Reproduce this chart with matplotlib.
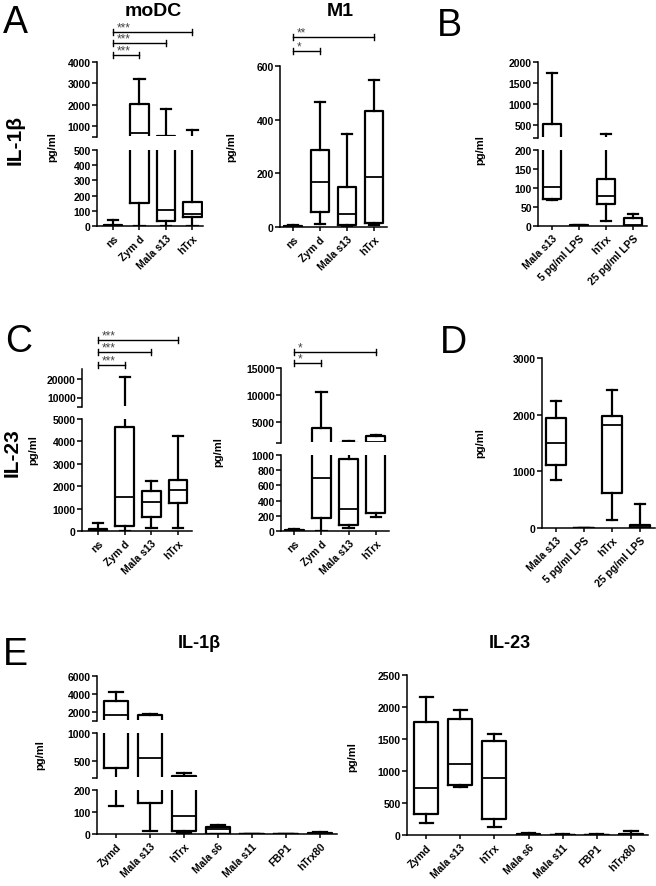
import matplotlib
matplotlib.use('Agg')
import matplotlib.pyplot as plt
import matplotlib.transforms as mtransforms
import numpy as np

plt.rcParams['font.family'] = ['Liberation Sans', 'DejaVu Sans']
plt.rcParams['font.weight'] = 'bold'

# -------------------------------------------------------------------------------------------------------------------- #
# DATA  (each box: whisker low, Q1, median, Q3, whisker high - pg/ml)

cats_stim = ['ns', 'Zym d', 'Mala s13', 'hTrx']
cats_ctrl = ['Mala s13', '5 pg/ml LPS', 'hTrx', '25 pg/ml LPS']
cats_e = ['Zymd', 'Mala s13', 'hTrx', 'Mala s6', 'Mala s11', 'FBP1', 'hTrx80']

il1b_modc = [[0, 0, 4, 8, 42], [0, 150, 700, 2030, 3200], [0, 35, 103, 550, 1830], [0, 58, 80, 158, 810]]
il1b_m1 = [[0, 1, 3, 5, 8], [12, 56, 168, 288, 466], [5, 9, 48, 148, 346], [8, 16, 187, 434, 548]]
il1b_ctrl = [[68, 70, 103, 535, 1730], [0, 0, 1, 2, 3], [13, 59, 79, 123, 290], [0, 0, 2, 22, 32]]

il23_modc = [[0, 10, 30, 80, 370], [0, 240, 1540, 4660, 21000], [120, 610, 1290, 1770, 2250],
             [130, 1245, 1850, 2260, 4260]]
il23_m1 = [[0, 2, 8, 15, 30], [0, 170, 700, 3770, 10560], [44, 74, 284, 950, 1350], [183, 240, 1250, 2350, 2450]]
il23_ctrl = [[847, 1112, 1506, 1941, 2235], [0, 0, 2, 5, 8], [135, 624, 1818, 1970, 2441], [0, 5, 30, 59, 418]]

il1b_e = [[127, 375, 1650, 3250, 4250], [13, 139, 548, 1620, 1770], [5, 15, 84, 235, 290], [0, 0, 25, 30, 39],
          [0, 0, 1, 2, 2], [0, 0, 1, 2, 2], [0, 0, 2, 4, 8]]
il23_e = [[183, 329, 741, 1764, 2161], [757, 783, 1117, 1806, 1952], [130, 256, 887, 1472, 1571],
          [0, 2, 10, 20, 30], [0, 0, 2, 5, 8], [0, 0, 2, 5, 8], [0, 2, 5, 10, 57]]

# -------------------------------------------------------------------------------------------------------------------- #
# HELPERS

W, H = 656, 887
fig = plt.figure(figsize=(W / 100, H / 100), dpi=100)
LW_BOX = 1.6
LW_AX = 1.1
TICK_FS = 7.5


def px_axes(x0, x1, y0, y1):
    return fig.add_axes([x0 / W, 1 - y1 / H, (x1 - x0) / W, (y1 - y0) / H])


def to_stats(rows):
    return [dict(whislo=r[0], q1=r[1], med=r[2], q3=r[3], whishi=r[4]) for r in rows]


def panel(x0, x1, segs, cats, rows, xl=0.55, xr=0.5, width=0.7):
    # segs: (top px, bottom px, ylo, yhi, labelled ticks, end tick?)
    n = len(cats)
    pos = np.arange(1, n + 1)
    stats = to_stats(rows)
    axes = []
    for i, (top, bot, lo, hi, ticks, end_tick) in enumerate(segs):
        ax = px_axes(x0, x1, top, bot)
        line = dict(color='black', linewidth=LW_BOX)
        art = ax.bxp(stats, positions=pos, widths=width, capwidths=width * 0.55, showfliers=False,
                     boxprops=line, whiskerprops=line, capprops=line,
                     medianprops=dict(color='black', linewidth=1.3))
        ax.set_xlim(1 - xl, n + xr)
        ax.set_ylim(lo, hi)
        if i < len(segs) - 1:
            # keep marks that sit just under a break from bleeding into the segment
            eps = 1.5 / (bot - top)
            clip = mtransforms.TransformedBbox(mtransforms.Bbox([[-0.1, eps], [1.1, 1.0]]), ax.transAxes)
            for key in art:
                for a in art[key]:
                    a.set_clip_box(clip)
        yt = list(ticks)
        labels = [str(t) for t in ticks]
        if end_tick:
            yt.append(lo)
            labels.append('')
        ax.set_yticks(yt)
        ax.set_yticklabels(labels)
        ax.spines[['top', 'right']].set_visible(False)
        for s in ax.spines.values():
            s.set_linewidth(LW_AX)
        ax.tick_params(axis='y', labelsize=TICK_FS, length=3.5, width=LW_AX, pad=1)
        if i < len(segs) - 1:
            ax.spines['bottom'].set_visible(False)
            ax.set_xticks([])
        else:
            ax.set_xticks(pos)
            ax.set_xticklabels(cats, rotation=45, ha='right', rotation_mode='anchor')
            ax.tick_params(axis='x', labelsize=TICK_FS, length=3, width=LW_AX, pad=2)
        axes.append(ax)
    return axes


def bracket(ax, i, j, ypx, stars):
    tr = mtransforms.blended_transform_factory(ax.transData, fig.transFigure)
    y = 1 - ypx / H
    d = 3 / H
    ax.plot([i, j], [y, y], color='black', lw=1.0, transform=tr, clip_on=False)
    ax.plot([i, i], [y - d, y + d], color='black', lw=1.0, transform=tr, clip_on=False)
    ax.plot([j, j], [y - d, y + d], color='black', lw=1.0, transform=tr, clip_on=False)
    ax.text(i + 0.15, y - 1 / H, stars, transform=tr, fontsize=8.5, color='#444444',
            fontweight='normal', ha='left', va='bottom')


def ftext(xpx, ypx, s, **kw):
    fig.text(xpx / W, 1 - ypx / H, s, ha='center', va='center', **kw)


# -------------------------------------------------------------------------------------------------------------------- #
# PANEL A / B  (IL-1beta)

a1 = panel(97, 203, [(63, 138, 500, 4000, [1000, 2000, 3000, 4000], True),
                     (151, 227, 0, 500, [0, 100, 200, 300, 400, 500], False)],
           cats_stim, il1b_modc, xl=0.6, xr=0.4)
bracket(a1[0], 1, 4, 33, '***')
bracket(a1[0], 1, 3, 44, '***')
bracket(a1[0], 1, 2, 56, '***')

a2 = panel(280, 387, [(67, 228, 0, 600, [0, 200, 400, 600], False)], cats_stim, il1b_m1, xl=0.48, xr=0.48)
bracket(a2[0], 1, 4, 38, '**')
bracket(a2[0], 1, 2, 52, '*')

panel(538, 647, [(63, 139, 200, 2000, [500, 1000, 1500, 2000], True),
                 (151, 227, 0, 200, [0, 50, 100, 150, 200], False)],
      cats_ctrl, il1b_ctrl, xl=0.52, xr=0.52)

# PANEL C / D  (IL-23)

c1 = panel(82, 192, [(370, 408, 5000, 25000, [10000, 20000], True),
                     (420, 532, 0, 5000, [0, 1000, 2000, 3000, 4000, 5000], False)],
           cats_stim, il23_modc, xl=0.6, xr=0.52)
bracket(c1[0], 1, 4, 341, '***')
bracket(c1[0], 1, 3, 353, '***')
bracket(c1[0], 1, 2, 366, '***')

c2 = panel(281, 389, [(369, 444, 1000, 15000, [5000, 10000, 15000], True),
                      (456, 532, 0, 1000, [0, 200, 400, 600, 800, 1000], False)],
           cats_stim, il23_m1, xl=0.48, xr=0.48)
bracket(c2[0], 1, 4, 353, '*')
bracket(c2[0], 1, 2, 364, '*')

panel(542, 655, [(359, 529, 0, 3000, [0, 1000, 2000, 3000], False)], cats_ctrl, il23_ctrl, xl=0.5, xr=0.54)

# PANEL E

panel(97, 337, [(677, 722, 1000, 6000, [2000, 4000, 6000], True),
                (734, 779, 200, 1000, [500, 1000], True),
                (791, 835, 0, 200, [0, 100, 200], False)],
      cats_e, il1b_e, xl=0.56, xr=0.5)

panel(407, 648, [(676, 836, 0, 2500, [0, 500, 1000, 1500, 2000, 2500], False)],
      cats_e, il23_e, xl=0.56, xr=0.5)

# -------------------------------------------------------------------------------------------------------------------- #
# LABELS

for x, y, s in [(15, 23, 'A'), (449, 26, 'B'), (19, 342, 'C'), (453, 343, 'D'), (15, 655, 'E')]:
    ftext(x, y, s, fontsize=27, fontweight='normal')

ftext(153, 12, 'moDC', fontsize=14)
ftext(340, 12, 'M1', fontsize=14)
ftext(199, 643, 'IL-1β', fontsize=13)
ftext(510, 643, 'IL-23', fontsize=13)
ftext(15, 140, 'IL-1β', fontsize=15, rotation=90)
ftext(12, 453, 'IL-23', fontsize=15, rotation=90)

for x, y in [(52, 147), (231, 147), (480, 150), (33, 450), (218, 452), (480, 443), (40, 755), (352, 757)]:
    ftext(x, y, 'pg/ml', fontsize=8, rotation=90)

fig.savefig('out.png', dpi=100)
